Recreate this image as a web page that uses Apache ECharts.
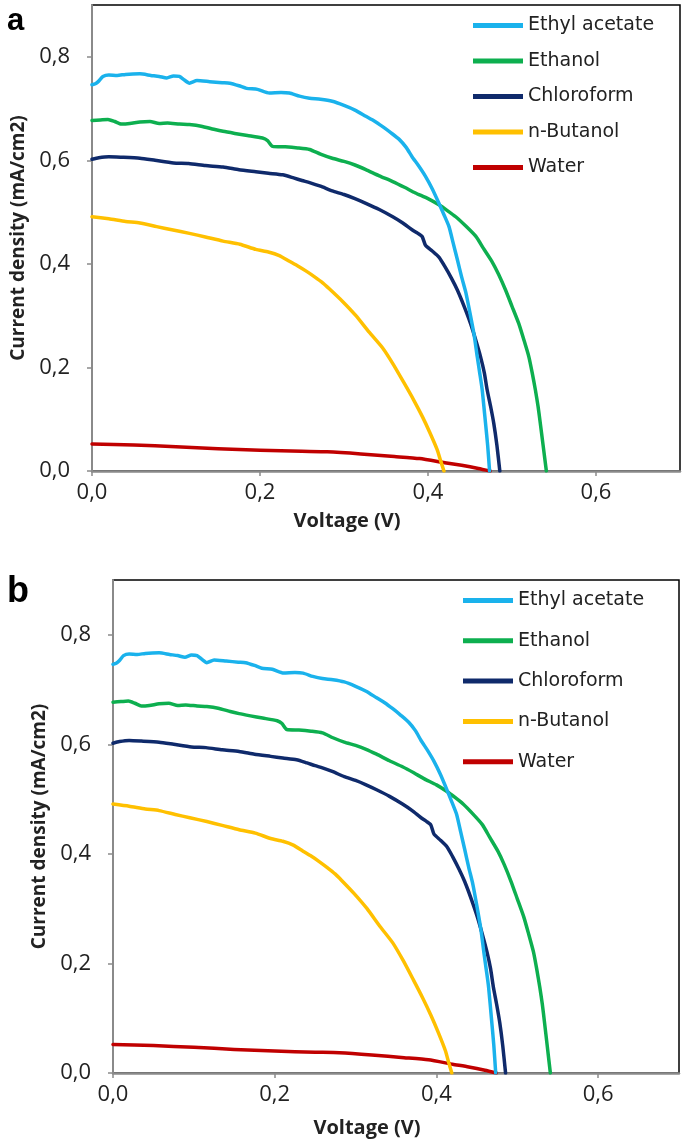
<!DOCTYPE html>
<html>
<head>
<meta charset="utf-8">
<script src="https://cdn.jsdelivr.net/npm/echarts@6/dist/echarts.min.js"></script>
<style>
html,body{margin:0;padding:0;background:#fff;}
#chart{width:685px;height:1148px;}
</style>
</head>
<body>
<div id="chart"></div>
<script>
// ---- data (Voltage in V, current density in mA/cm2) ----
const seriesNames = ['Ethyl acetate', 'Ethanol', 'Chloroform', 'n-Butanol', 'Water'];
const seriesColors = ['#1AB2EC', '#0DAF4F', '#0F2A6B', '#FFC000', '#C00000'];
const xTicks = [0, 0.2, 0.4, 0.6];
const yTicks = [0, 0.2, 0.4, 0.6, 0.8];

const ethylV = [0.000,0.004,0.008,0.013,0.020,0.030,0.040,0.057,0.070,0.080,0.089,0.097,0.104,0.110,0.116,0.125,0.140,0.155,0.164,0.175,0.184,0.197,0.211,0.225,0.235,0.247,0.259,0.272,0.286,0.300,0.313,0.326,0.336,0.346,0.356,0.366,0.374,0.381,0.389,0.397,0.405,0.413,0.419,0.425,0.430,0.435,0.440,0.445,0.450,0.455,0.4586,0.4615,0.4645,0.4685,0.471,0.4733];
const ethylJ = [0.746,0.748,0.753,0.762,0.765,0.764,0.766,0.767,0.764,0.762,0.759,0.763,0.762,0.755,0.749,0.754,0.752,0.750,0.749,0.744,0.739,0.737,0.730,0.731,0.730,0.724,0.720,0.718,0.714,0.706,0.697,0.685,0.676,0.665,0.653,0.640,0.625,0.607,0.589,0.569,0.545,0.517,0.495,0.472,0.440,0.408,0.375,0.345,0.305,0.262,0.221,0.190,0.157,0.092,0.050,0.000];

const ethanolV = [0.000,0.010,0.019,0.027,0.035,0.045,0.057,0.069,0.080,0.090,0.104,0.116,0.130,0.145,0.156,0.170,0.185,0.203,0.209,0.215,0.230,0.245,0.259,0.272,0.286,0.300,0.313,0.326,0.342,0.358,0.372,0.385,0.400,0.413,0.423,0.433,0.445,0.457,0.466,0.476,0.484,0.4922,0.500,0.508,0.514,0.520,0.524,0.5278,0.531,0.5337,0.537,0.5409];
const ethanolJ = [0.677,0.678,0.679,0.675,0.670,0.671,0.674,0.675,0.671,0.672,0.670,0.669,0.666,0.660,0.656,0.652,0.648,0.643,0.638,0.627,0.626,0.624,0.621,0.612,0.604,0.598,0.591,0.582,0.570,0.559,0.548,0.537,0.526,0.514,0.503,0.491,0.473,0.453,0.430,0.405,0.380,0.350,0.318,0.285,0.254,0.221,0.190,0.157,0.125,0.092,0.050,0.000];

const chloroV = [0.000,0.008,0.020,0.035,0.057,0.075,0.097,0.115,0.135,0.156,0.175,0.195,0.210,0.227,0.240,0.250,0.259,0.272,0.286,0.300,0.313,0.326,0.342,0.358,0.370,0.381,0.388,0.393,0.397,0.405,0.413,0.420,0.428,0.4348,0.443,0.4506,0.457,0.4625,0.467,0.4704,0.4745,0.4783,0.482,0.4855];
const chloroJ = [0.602,0.605,0.607,0.606,0.604,0.600,0.595,0.594,0.590,0.587,0.582,0.578,0.575,0.572,0.566,0.561,0.557,0.550,0.541,0.534,0.526,0.517,0.505,0.491,0.479,0.466,0.459,0.453,0.436,0.425,0.413,0.395,0.372,0.350,0.318,0.285,0.252,0.221,0.190,0.157,0.125,0.092,0.050,0.000];

const butanolV = [0.000,0.020,0.040,0.057,0.077,0.095,0.116,0.135,0.156,0.176,0.195,0.210,0.223,0.235,0.245,0.255,0.265,0.275,0.2825,0.298,0.3142,0.330,0.3458,0.359,0.3715,0.383,0.3933,0.402,0.411,0.415,0.419];
const butanolJ = [0.491,0.487,0.482,0.479,0.472,0.466,0.459,0.452,0.444,0.438,0.428,0.423,0.416,0.405,0.396,0.386,0.375,0.363,0.352,0.328,0.300,0.268,0.238,0.205,0.170,0.137,0.105,0.075,0.041,0.020,0.000];

const waterV = [0.000,0.050,0.100,0.150,0.200,0.250,0.280,0.320,0.360,0.390,0.420,0.440,0.460,0.474];
const waterJ = [0.052,0.050,0.047,0.043,0.040,0.038,0.037,0.033,0.028,0.024,0.016,0.011,0.005,0.000];

const allV = [ethylV, ethanolV, chloroV, butanolV, waterV];
const allJ = [ethylJ, ethanolJ, chloroJ, butanolJ, waterJ];

// ---- build options ----
const fmt = v => v.toFixed(1).replace('.', ',');
const zip = (a, b) => a.map((v, i) => [v, b[i]]);

const panels = [
  { grid: {left: 92, top: 5, right: 5, height: 466}, xNameGap: 40, yNameGap: 64, xNameShift: 78,
    legend: {left: 468, top: 11, itemGap: 16.5} },
  { grid: {left: 113, top: 580, right: 6, height: 493}, xNameGap: 45, yNameGap: 64, xNameShift: 58,
    legend: {left: 458, top: 586, itemGap: 21.3} }
];

const grids = [], xAxes = [], yAxes = [], series = [], legends = [];
panels.forEach((p, gi) => {
  grids.push(Object.assign({show: true, borderColor: '#000', borderWidth: 1.5, backgroundColor: 'transparent'}, p.grid));
  xAxes.push({
    type: 'value', gridIndex: gi, min: 0, max: 0.7,
    axisLine: {show: true, onZero: false, lineStyle: {color: '#8a8a8a', width: 2.5}},
    axisTick: {show: true, length: 5, inside: false, customValues: xTicks, lineStyle: {color: '#8a8a8a', width: 1.5}},
    axisLabel: {customValues: xTicks, formatter: fmt, margin: 11, fontFamily: 'Open Sans', fontSize: 22, color: '#222'},
    splitLine: {show: false},
    name: 'Voltage (V)', nameLocation: 'middle', nameGap: p.xNameGap,
    nameTextStyle: {fontFamily: 'Open Sans', fontWeight: 'bold', fontSize: 20, color: '#222', padding: [0, p.xNameShift, 0, 0]}
  });
  yAxes.push({
    type: 'value', gridIndex: gi, min: 0, max: 0.9,
    axisLine: {show: true, onZero: false, lineStyle: {color: '#8a8a8a', width: 2}},
    axisTick: {show: true, length: 5, inside: false, customValues: yTicks, lineStyle: {color: '#8a8a8a', width: 1.5}},
    axisLabel: {customValues: yTicks, formatter: fmt, margin: 22, fontFamily: 'Open Sans', fontSize: 22, color: '#222'},
    splitLine: {show: false},
    name: 'Current density (mA/cm2)', nameLocation: 'middle', nameGap: p.yNameGap,
    nameTextStyle: {fontFamily: 'Open Sans', fontWeight: 'bold', fontSize: 19, color: '#222'}
  });
  seriesNames.forEach((nm, si) => {
    series.push({
      type: 'line', name: nm, xAxisIndex: gi, yAxisIndex: gi,
      data: zip(allV[si], allJ[si]),
      symbol: 'none', showSymbol: false, smooth: 0.2,
      lineStyle: {color: seriesColors[si], width: 3.5, join: 'round', cap: 'round'},
      itemStyle: {color: seriesColors[si]},
      z: 10 - si
    });
  });
  legends.push({
    orient: 'vertical', left: p.legend.left, top: p.legend.top, itemGap: p.legend.itemGap,
    itemWidth: 50, itemHeight: 18, data: seriesNames, selectedMode: false,
    icon: 'path://M0,0H50V5H0Z', symbolKeepAspect: true,
    textStyle: {fontFamily: 'DejaVu Sans', fontSize: 19, color: '#222', padding: [0, 0, 0, 0]}
  });
});

const chart = echarts.init(document.getElementById('chart'), null, {renderer: 'canvas'});
chart.setOption({
  animation: false,
  backgroundColor: '#fff',
  grid: grids, xAxis: xAxes, yAxis: yAxes, series: series, legend: legends,
  graphic: [
    {type: 'text', left: 7, top: 6, style: {text: 'a', fontFamily: 'Liberation Sans', fontWeight: 'bold', fontSize: 31, fill: '#000'}},
    {type: 'text', left: 7, top: 574, style: {text: 'b', fontFamily: 'Liberation Sans', fontWeight: 'bold', fontSize: 36, fill: '#000'}}
  ]
});
</script>
</body>
</html>
